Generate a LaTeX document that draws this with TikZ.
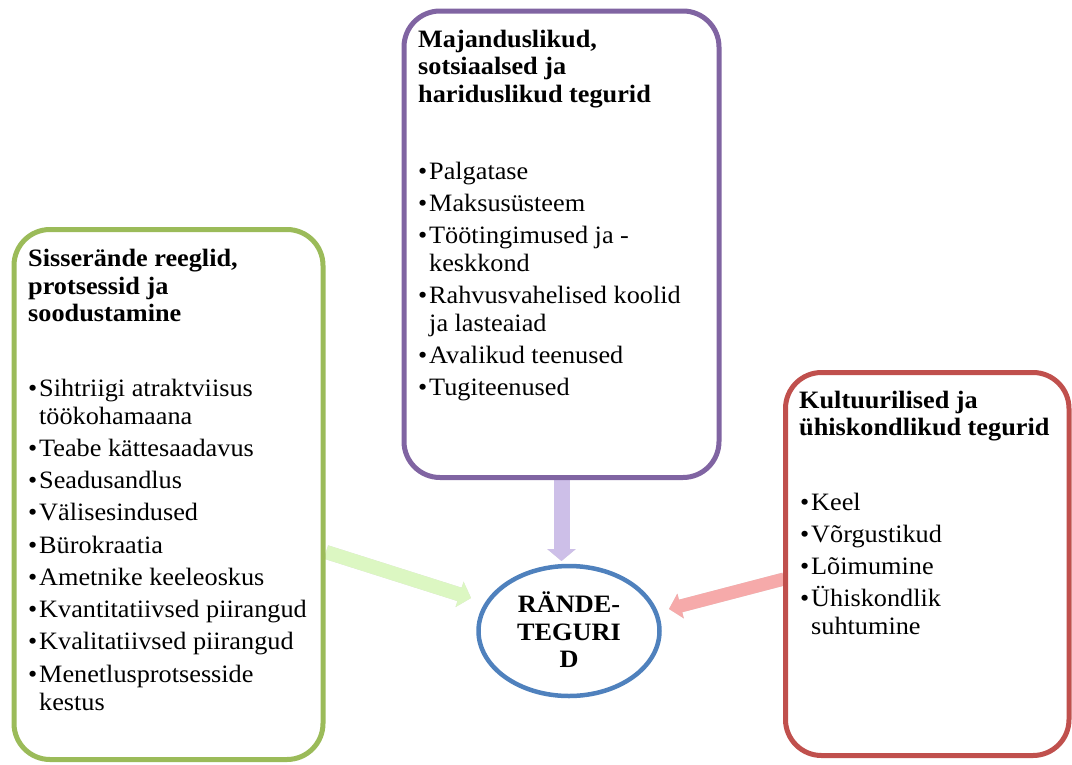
\documentclass[tikz,border=0pt]{standalone}
\usepackage{fontspec}
\setmainfont[FakeStretch=1.05]{Liberation Serif}
\usetikzlibrary{arrows.meta,shapes.geometric}
\definecolor{gline}{HTML}{9BBB59}
\definecolor{pline}{HTML}{8064A2}
\definecolor{rline}{HTML}{C0504D}
\definecolor{bline}{HTML}{4F81BD}
\definecolor{garrow}{HTML}{DCF7C2}
\definecolor{parrow}{HTML}{CDBFE8}
\definecolor{rarrow}{HTML}{F6AAAA}
\newcommand\bul{\makebox[11pt][l]{•}}
\tikzset{
  boxstyle/.style={draw, line width=5pt, rounded corners=36pt, fill=white, inner sep=0pt},
  hd/.style={anchor=base west, inner sep=0pt, font=\fontsize{25}{28}\selectfont\bfseries},
  itx/.style={anchor=base west, inner sep=0pt, font=\fontsize{25}{28}\selectfont},
  ctx/.style={anchor=base, inner sep=0pt, font=\fontsize{25}{28}\selectfont\bfseries},
  blockarrow/.style={line width=#1, -{Triangle[length=12pt,width=#1+12pt]}},
  arrowshadow/.style={draw=black, opacity=0.15, xshift=2pt, yshift=-3pt}
}
\begin{document}
\begin{tikzpicture}[x=1pt,y=-1pt]
\useasboundingbox (0,0) rectangle (1072,764);

% connector end points
\coordinate (ga) at (326,552);
\coordinate (gt) at (471,598);
\coordinate (pa) at (561.5,479);
\coordinate (pt) at (561.5,561);
\coordinate (ra) at (784,579);
\coordinate (rt) at (669,609);

% block arrows (with soft shadow)
\draw[blockarrow=14pt, arrowshadow] (ga) -- (gt);
\draw[blockarrow=14pt, draw=garrow] (ga) -- (gt);
\draw[blockarrow=16pt, arrowshadow] (pa) -- (pt);
\draw[blockarrow=16pt, draw=parrow] (pa) -- (pt);
\draw[blockarrow=13pt, arrowshadow] (ra) -- (rt);
\draw[blockarrow=13pt, draw=rarrow] (ra) -- (rt);

% boxes
\node[boxstyle, draw=gline, minimum width=309pt, minimum height=530pt] (gbox) at (168.5,494.5) {};
\node[boxstyle, draw=pline, minimum width=315pt, minimum height=466.5pt] (pbox) at (561.5,244.25) {};
\node[boxstyle, draw=rline, minimum width=283.5pt, minimum height=383pt] (rbox) at (927.25,564) {};
\node[ellipse, draw=bline, line width=4.5pt, fill=white, inner sep=0pt, minimum width=181pt, minimum height=130pt] (rde) at (569,631) {};

% centre text
\node[ctx] (c1) at (569,612) {RÄNDE-};
\node[ctx] (c2) at (569,640) {TEGURI};
\node[ctx] (c3) at (569,667) {D};

% green box text
\node[hd] (g1) at (28,266) {Sisserände reeglid,};
\node[hd] (g2) at (28,294) {protsessid ja};
\node[hd] (g3) at (28,321) {soodustamine};
\node[itx] (g4) at (28,396) {\bul Sihtriigi atraktviisus};
\node[itx] (g5) at (39,424) {töökohamaana};
\node[itx] (g6) at (28,456) {\bul Teabe kättesaadavus};
\node[itx] (g7) at (28,488) {\bul Seadusandlus};
\node[itx] (g8) at (28,520) {\bul Välisesindused};
\node[itx] (g9) at (28,553) {\bul Bürokraatia};
\node[itx] (g10) at (28,585) {\bul Ametnike keeleoskus};
\node[itx] (g11) at (28,617) {\bul Kvantitatiivsed piirangud};
\node[itx] (g12) at (28,649) {\bul Kvalitatiivsed piirangud};
\node[itx] (g13) at (28,682) {\bul Menetlusprotsesside};
\node[itx] (g14) at (39,710) {kestus};

% purple box text
\node[hd] (p1) at (418,47) {Majanduslikud,};
\node[hd] (p2) at (418,74.5) {sotsiaalsed ja};
\node[hd] (p3) at (418,102) {hariduslikud tegurid};
\node[itx] (p4) at (418,179) {\bul Palgatase};
\node[itx] (p5) at (418,211) {\bul Maksusüsteem};
\node[itx] (p6) at (418,243) {\bul Töötingimused ja -};
\node[itx] (p7) at (429,271) {keskkond};
\node[itx] (p8) at (418,303) {\bul Rahvusvahelised koolid};
\node[itx] (p9) at (429,331) {ja lasteaiad};
\node[itx] (p10) at (418,363) {\bul Avalikud teenused};
\node[itx] (p11) at (418,395) {\bul Tugiteenused};

% red box text
\node[hd] (r1) at (799,408) {Kultuurilised ja};
\node[hd] (r2) at (799,435) {ühiskondlikud tegurid};
\node[itx] (r3) at (800,510) {\bul Keel};
\node[itx] (r4) at (800,542) {\bul Võrgustikud};
\node[itx] (r5) at (800,574) {\bul Lõimumine};
\node[itx] (r6) at (800,606) {\bul Ühiskondlik};
\node[itx] (r7) at (811,634) {suhtumine};
\end{tikzpicture}
\end{document}
